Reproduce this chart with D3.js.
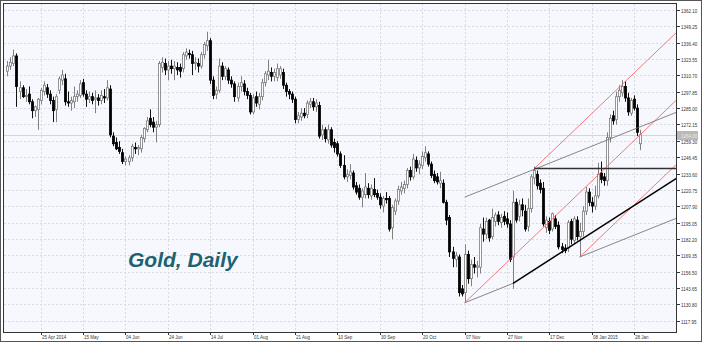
<!DOCTYPE html>
<html><head><meta charset="utf-8">
<script src="https://cdn.jsdelivr.net/npm/d3@7"></script>
<style>html,body{margin:0;padding:0;background:#fff;} svg{display:block;}</style>
</head><body>
<svg id="c" width="702" height="342"></svg>
<script>
// ---- DATA (Gold daily OHLC, bar index 0 .. 209) ----
const opens = [1314,1318,1320,1326,1298,1301,1294,1296,1290,1283,1284,1291,1298,1301,1296,1291,1284,1299,1307,1308,
1290,1289,1290,1294,1295,1305,1296,1292,1294,1292,1293,1291,1294,1293,1300,1263,1258,1254,1250,1243,
1243,1246,1254,1253,1253,1261,1268,1277,1274,1270,1272,1317,1320,1315,1318,1316,1317,1317,1316,1326,
1328,1327,1320,1320,1318,1327,1334,1338,1307,1296,1299,1318,1310,1315,1307,1304,1293,1302,1304,1298,
1295,1282,1294,1288,1294,1305,1311,1313,1310,1309,1311,1313,1303,1298,1296,1292,1276,1278,1281,1280,
1288,1290,1286,1287,1264,1268,1260,1268,1258,1257,1249,1240,1231,1232,1234,1224,1222,1215,1217,1222,
1216,1221,1218,1215,1208,1214,1214,1191,1204,1212,1220,1222,1225,1236,1231,1244,1238,1240,1246,1249,
1241,1233,1231,1226,1226,1211,1199,1172,1166,1168,1143,1140,1170,1151,1162,1160,1160,1190,1186,1197,
1184,1196,1201,1195,1200,1198,1194,1168,1211,1200,1209,1204,1192,1206,1230,1233,1226,1222,1191,1196,
1190,1198,1193,1176,1175,1175,1196,1181,1197,1184,1188,1204,1219,1211,1208,1216,1234,1231,1228,1262,
1279,1276,1294,1297,1302,1293,1281,1292,1285,1257];
const highs = [1322,1325,1331,1328,1306,1303,1300,1302,1292,1287,1293,1301,1306,1304,1299,1294,1296,1310,1315,1312,
1298,1294,1302,1299,1307,1308,1299,1298,1297,1299,1296,1299,1300,1307,1303,1266,1262,1259,1253,1247,
1248,1257,1258,1256,1264,1270,1278,1284,1278,1275,1322,1325,1324,1322,1323,1322,1321,1320,1329,1332,
1331,1330,1325,1324,1329,1337,1345,1340,1310,1302,1324,1321,1318,1317,1310,1306,1305,1310,1307,1301,
1297,1296,1298,1297,1308,1314,1323,1317,1316,1320,1318,1316,1305,1300,1298,1294,1282,1285,1285,1291,
1293,1293,1292,1290,1272,1270,1272,1270,1261,1259,1251,1248,1237,1241,1236,1227,1225,1222,1234,1226,
1225,1230,1221,1218,1216,1219,1216,1209,1214,1224,1227,1228,1238,1239,1249,1247,1244,1251,1255,1251,
1243,1236,1234,1235,1229,1213,1201,1176,1172,1170,1146,1178,1173,1166,1168,1165,1194,1199,1199,1198,
1206,1203,1204,1202,1204,1203,1197,1220,1214,1213,1214,1209,1214,1233,1239,1236,1229,1227,1200,1199,
1203,1201,1196,1179,1178,1197,1198,1200,1200,1195,1208,1223,1222,1215,1224,1242,1243,1234,1266,1280,
1283,1298,1303,1307,1306,1297,1293,1295,1288,1268];
const lows = [1310,1315,1318,1286,1292,1293,1290,1288,1277,1278,1268,1288,1295,1293,1288,1274,1274,1296,1303,1287,
1286,1283,1285,1290,1293,1294,1286,1289,1288,1281,1287,1288,1289,1291,1262,1255,1252,1249,1241,1240,
1240,1243,1249,1248,1250,1258,1266,1270,1266,1258,1270,1313,1311,1307,1312,1307,1311,1309,1313,1323,
1324,1311,1315,1313,1316,1324,1330,1304,1292,1292,1297,1307,1307,1304,1301,1290,1290,1298,1295,1292,
1280,1280,1286,1284,1291,1302,1307,1306,1306,1306,1308,1300,1294,1292,1289,1273,1273,1275,1277,1277,
1285,1283,1282,1261,1260,1258,1257,1254,1250,1247,1238,1229,1227,1229,1221,1217,1213,1207,1214,1214,
1213,1215,1213,1206,1203,1210,1188,1182,1201,1209,1217,1218,1222,1228,1229,1235,1233,1237,1243,1239,
1230,1226,1225,1222,1210,1193,1168,1160,1160,1137,1137,1132,1147,1145,1155,1152,1155,1180,1182,1180,
1182,1192,1193,1191,1193,1191,1164,1143,1195,1196,1200,1188,1188,1203,1225,1221,1218,1192,1187,1186,
1188,1190,1174,1171,1171,1172,1178,1178,1181,1168,1184,1201,1208,1203,1205,1214,1226,1224,1224,1258,
1272,1272,1290,1294,1290,1279,1279,1283,1263,1252];
const closes = [1318,1321,1326,1302,1301,1294,1295,1290,1283,1286,1292,1299,1303,1296,1291,1283,1294,1308,1311,1290,
1289,1291,1294,1296,1304,1296,1292,1294,1291,1293,1291,1295,1293,1301,1264,1257,1253,1251,1243,1245,
1246,1255,1253,1254,1262,1269,1275,1272,1270,1272,1320,1321,1315,1318,1316,1318,1315,1314,1327,1329,
1327,1320,1321,1318,1327,1335,1338,1307,1295,1299,1318,1310,1316,1307,1304,1294,1302,1305,1298,1295,
1282,1293,1289,1294,1305,1312,1314,1310,1313,1316,1316,1303,1298,1296,1292,1276,1279,1281,1279,1289,
1290,1286,1289,1263,1268,1261,1268,1256,1254,1249,1240,1231,1233,1235,1223,1219,1215,1220,1223,1217,
1222,1217,1215,1209,1214,1213,1190,1207,1212,1221,1223,1225,1236,1231,1245,1238,1241,1247,1250,1241,
1232,1228,1227,1228,1211,1197,1172,1167,1169,1140,1139,1170,1151,1162,1160,1161,1191,1186,1196,1183,
1199,1201,1196,1199,1196,1194,1166,1211,1197,1209,1205,1190,1206,1231,1236,1224,1221,1194,1197,1189,
1202,1192,1176,1174,1173,1195,1182,1198,1184,1188,1204,1219,1211,1208,1216,1233,1229,1228,1262,1277,
1275,1294,1299,1302,1293,1282,1291,1285,1266,1264];

const yTicks = [1362.10,1349.25,1336.40,1323.55,1310.70,1297.85,1285.00,1272.15,1259.30,1246.45,
                1233.60,1220.75,1207.90,1195.05,1182.20,1169.35,1156.50,1143.65,1130.80,1117.95];
const xTickIndex = [11,25,39,53,67,81,95,109,123,137,151,165,179,193,207];
const xTickLabels = ["25 Apr 2014","15 May","04 Jun","24 Jun","14 Jul","01 Aug","21 Aug","10 Sep",
                     "30 Sep","20 Oct","07 Nov","27 Nov","17 Dec","08 Jan 2015","28 Jan"];
const lastPrice = 1264.00;

// drawn objects: anchor bar, anchor price, slope (price per bar)
const redAnchorsBar   = [151, 174, 189];
const redAnchorsPrice = [1132, 1237.5, 1168];
const redSlope = 2.278;
const greyAnchorsBar   = [151, 189];
const greyAnchorsPrice = [1215, 1168];
const greySlope = 0.954;
const greySegBar = [151, 167];
const greySegPrice = [1132, 1147.3];
const blackAnchorBar = 167, blackAnchorPrice = 1147.3, blackSlope = 1.531;
const hLineBar = 174, hLinePrice = 1237.5;
const titleText = "Gold, Daily";

// ---- CHART ----
const W = 702, H = 342;
const P = {x0: 4, x1: 676, y0: 4, y1: 332};
const svg = d3.select("#c");
const n = closes.length;
const x = d3.scaleLinear().domain([0, n - 1]).range([7.4, 7.4 + (n - 1) * 3.028]);
const y = d3.scaleLinear().domain([1117.95, 1362.10]).range([320.7, 10]);
const barEnd = x.invert(P.x1 + 2);

svg.append("rect").attr("x",0).attr("y",0).attr("width",W).attr("height",H).attr("fill","#fff");
svg.append("rect").attr("x",P.x0).attr("y",P.y0).attr("width",P.x1-P.x0).attr("height",P.y1-P.y0).attr("fill","#f7f8fd");

svg.append("defs").append("clipPath").attr("id","clip")
  .append("rect").attr("x",P.x0).attr("y",P.y0).attr("width",P.x1-P.x0).attr("height",P.y1-P.y0);

const grid = svg.append("g").attr("stroke","#d9dbe2").attr("stroke-width",1).attr("stroke-dasharray","2,2");
yTicks.forEach(v => {
  const yy = Math.round(y(v)) + 0.5;
  grid.append("line").attr("x1",P.x0).attr("x2",P.x1).attr("y1",yy).attr("y2",yy);
});
xTickIndex.forEach(i => {
  const xx = Math.round(x(i)) + 0.5;
  grid.append("line").attr("x1",xx).attr("x2",xx).attr("y1",P.y0).attr("y2",P.y1);
});

const g = svg.append("g").attr("clip-path","url(#clip)");

// current price line
g.append("line").attr("x1",P.x0).attr("x2",P.x1)
  .attr("y1",Math.round(y(lastPrice))+0.5).attr("y2",Math.round(y(lastPrice))+0.5)
  .attr("stroke","#dcd2d2").attr("stroke-width",1);

// candles
const idx = d3.range(n);
g.append("g").selectAll("line").data(idx).join("line")
  .attr("x1", i => Math.round(x(i)) + 0.5).attr("x2", i => Math.round(x(i)) + 0.5)
  .attr("y1", i => y(highs[i])).attr("y2", i => y(lows[i]))
  .attr("stroke", i => closes[i] >= opens[i] ? "#808080" : "#111").attr("stroke-width", 1);
g.append("g").selectAll("rect").data(idx).join("rect")
  .attr("x", i => Math.round(x(i)) - 0.5)
  .attr("width", 2)
  .attr("y", i => y(Math.max(opens[i], closes[i])))
  .attr("height", i => Math.max(1, Math.abs(y(opens[i]) - y(closes[i]))))
  .attr("fill", i => closes[i] >= opens[i] ? "#ffffff" : "#000")
  .attr("stroke", i => closes[i] >= opens[i] ? "#7a7a7a" : "#000")
  .attr("stroke-width", 0.8);

// trend lines
function seg(b0, p0, b1, p1, color, w) {
  g.append("line").attr("x1", x(b0)).attr("y1", y(p0)).attr("x2", x(b1)).attr("y2", y(p1))
    .attr("stroke", color).attr("stroke-width", w);
}
redAnchorsBar.forEach((b, k) => seg(b, redAnchorsPrice[k], barEnd, redAnchorsPrice[k] + (barEnd - b) * redSlope, "#f26b6b", 0.9));
greyAnchorsBar.forEach((b, k) => seg(b, greyAnchorsPrice[k], barEnd, greyAnchorsPrice[k] + (barEnd - b) * greySlope, "#6a6a6a", 0.8));
seg(greySegBar[0], greySegPrice[0], greySegBar[1], greySegPrice[1], "#6a6a6a", 0.8);
seg(blackAnchorBar, blackAnchorPrice, barEnd, blackAnchorPrice + (barEnd - blackAnchorBar) * blackSlope, "#000", 1.5);
seg(hLineBar, hLinePrice, barEnd, hLinePrice, "#333", 1.4);

// title
svg.append("text").attr("x",128).attr("y",267).text(titleText)
  .attr("font-family","'Liberation Sans', Arial, sans-serif").attr("font-weight","bold")
  .attr("font-style","italic").attr("font-size","21px").attr("fill","#1e6272");

// frames
svg.append("rect").attr("x",0.5).attr("y",0.5).attr("width",W-1).attr("height",H-1)
  .attr("fill","none").attr("stroke","#555").attr("stroke-width",1);
svg.append("rect").attr("x",3.5).attr("y",3.5).attr("width",P.x1-3).attr("height",P.y1-3)
  .attr("fill","none").attr("stroke","#333").attr("stroke-width",1);

// right axis
const ax = svg.append("g").attr("font-family","'Liberation Sans', Arial, sans-serif").attr("font-size","6px").attr("fill","#333");
yTicks.forEach(v => {
  const yy = Math.round(y(v)) + 0.5;
  svg.append("line").attr("x1",P.x1+0.5).attr("x2",P.x1+4).attr("y1",yy).attr("y2",yy).attr("stroke","#333");
  ax.append("text").attr("transform",`translate(681,${yy+2.2}) scale(0.75,1)`).text(v.toFixed(2));
});
// last price label
const ly = Math.round(y(lastPrice)) + 0.5;
svg.append("rect").attr("x",677).attr("y",ly-4.5).attr("width",21).attr("height",9).attr("fill","#b9b9b9");
svg.append("text").attr("transform",`translate(681,${ly+2.2}) scale(0.75,1)`).text(lastPrice.toFixed(2))
  .attr("font-family","'Liberation Sans', Arial, sans-serif").attr("font-size","6px").attr("fill","#eeeeee");

// bottom axis
xTickIndex.forEach((i, k) => {
  const xx = Math.round(x(i)) + 0.5;
  svg.append("line").attr("x1",xx).attr("x2",xx).attr("y1",P.y1).attr("y2",P.y1+3).attr("stroke","#333");
  ax.append("text").attr("transform",`translate(${xx+0.5},338.5) scale(0.75,1)`).text(xTickLabels[k]);
});
</script>
</body></html>
